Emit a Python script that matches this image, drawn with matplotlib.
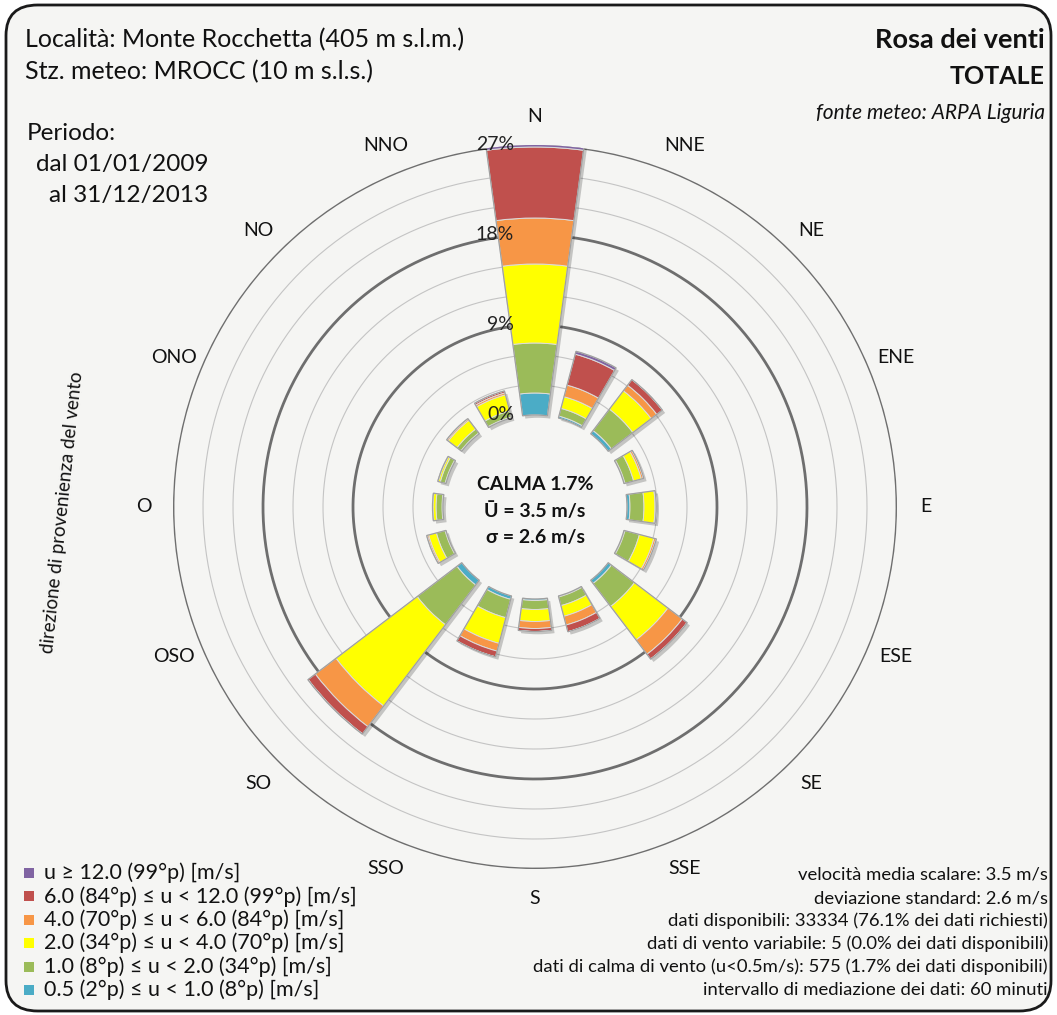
import numpy as np
import matplotlib
matplotlib.use("Agg")
import matplotlib.pyplot as plt
from matplotlib.patches import FancyBboxPatch, Rectangle
from matplotlib import patheffects as pe
from matplotlib.transforms import offset_copy

plt.rcParams['font.family'] = ['Lato', 'DejaVu Sans']

# data (percent of available data, per direction of origin)
directions = ["N", "NNE", "NE", "ENE", "E", "ESE", "SE", "SSE",
              "S", "SSO", "SO", "OSO", "O", "ONO", "NO", "NNO"]
v_05_1 = [2.2, 0.2, 0.4, 0.1, 0.3, 0.1, 0.4, 0.1, 0.15, 0.35, 0.6, 0.1, 0.1, 0.1, 0.1, 0.1]
v_1_2 = [5.0, 0.8, 2.7, 0.9, 1.4, 1.5, 2.9, 0.9, 0.9, 1.9, 5.0, 0.9, 0.6, 0.5, 0.5, 0.65]
v_2_4 = [7.9, 1.2, 2.3, 0.8, 1.1, 1.5, 4.2, 1.1, 1.2, 2.65, 10.2, 0.8, 0.3, 0.2, 1.1, 1.65]
v_4_6 = [4.6, 1.2, 0.7, 0.2, 0.1, 0.2, 1.8, 0.9, 0.7, 0.8, 2.6, 0.15, 0.05, 0.05, 0.15, 0.2]
v_6_12 = [7.1, 3.2, 0.7, 0.05, 0.02, 0.05, 0.6, 0.7, 0.3, 0.6, 0.9, 0.05, 0.0, 0.0, 0.05, 0.2]
v_12 = [0.5, 0.3, 0, 0, 0, 0, 0.02, 0, 0, 0, 0.03, 0, 0, 0, 0, 0]

classes = [v_05_1, v_1_2, v_2_4, v_4_6, v_6_12, v_12]
colors = ["#4bacc6", "#9bbb59", "#ffff00", "#f79646", "#c0504d", "#8064a2"]
legend_labels = [
    "u \u2265 12.0 (99\u00b0p) [m/s]",
    "6.0 (84\u00b0p) \u2264 u < 12.0 (99\u00b0p) [m/s]",
    "4.0 (70\u00b0p) \u2264 u < 6.0 (84\u00b0p) [m/s]",
    "2.0 (34\u00b0p) \u2264 u < 4.0 (70\u00b0p) [m/s]",
    "1.0 (8\u00b0p) \u2264 u < 2.0 (34\u00b0p) [m/s]",
    "0.5 (2\u00b0p) \u2264 u < 1.0 (8\u00b0p) [m/s]",
]
stats_lines = [
    "velocit\u00e0 media scalare: 3.5 m/s",
    "deviazione standard: 2.6 m/s",
    "dati disponibili: 33334 (76.1% dei dati richiesti)",
    "dati di vento variabile: 5 (0.0% dei dati disponibili)",
    "dati di calma di vento (u<0.5m/s): 575 (1.7% dei dati disponibili)",
    "intervallo di mediazione dei dati: 60 minuti",
]
ring_ticks = [0, 9, 18, 27]
minor_ticks = [3, 6, 12, 15, 21, 24]

HOLE = 9.2  # empty radius in the middle (in % units)
W, H = 1057, 1015


def fx(px):
    return px / W


def fy(py):
    return 1 - py / H


fig = plt.figure(figsize=(W / 100, H / 100), dpi=100)
fig.patch.set_facecolor("white")

# rounded frame
frame = FancyBboxPatch((fx(6), fy(1011)), fx(1051) - fx(6), fy(5) - fy(1011),
                       boxstyle="round,pad=0,rounding_size=0.03",
                       transform=fig.transFigure, facecolor="#f5f5f3",
                       edgecolor="#1a1a1a", linewidth=2, zorder=0)
fig.add_artist(frame)

# polar axes, centre at (535, 507) px, 27% ring at 362 px
cx, cy, rpx = 535, 507, 362
ax = fig.add_axes([fx(cx - rpx), fy(cy + rpx), 2 * rpx / W, 2 * rpx / H],
                  projection="polar")
ax.set_theta_zero_location("N")
ax.set_theta_direction(-1)
ax.set_ylim(0, HOLE + 27)
ax.axis("off")
ax.patch.set_alpha(0)

th = np.linspace(0, 2 * np.pi, 400)
for m in minor_ticks:
    ax.plot(th, np.full_like(th, HOLE + m), color="#c4c4c4", lw=0.8, zorder=1)
for m in ring_ticks[1:]:
    ax.plot(th, np.full_like(th, HOLE + m), color="#6e6e6e", lw=2.0, zorder=1)

theta = np.deg2rad(np.arange(16) * 22.5)
width = np.deg2rad(15.5)
totals = np.sum(classes, axis=0)

# soft shadow under whole bars
ax.bar(theta, totals, width=width, bottom=HOLE, color="#f0f0f0",
       edgecolor="none", zorder=2,
       path_effects=[pe.SimplePatchShadow(offset=(2, -2), shadow_rgbFace="k", alpha=0.2),
                     pe.Normal()])

bottom = np.full(16, HOLE)
for vals, col in zip(classes, colors):
    vals = np.array(vals)
    ax.bar(theta, vals, width=width, bottom=bottom, color=col,
           edgecolor="#dcdcdc", linewidth=0.7, zorder=3)
    bottom = bottom + vals

# outline of each bar
ax.bar(theta, totals, width=width, bottom=HOLE, color="none",
       edgecolor="#a0a0a0", linewidth=0.9, zorder=4)

# direction labels
for t, d in zip(theta, directions):
    ax.text(t, HOLE + 29.9, d, ha="center", va="center", fontsize=14,
            color="#111111", clip_on=False)

# ring labels, right aligned just left of the N bar
tr = offset_copy(ax.transData, fig=fig, x=-21, y=0, units="dots")
for m in ring_ticks:
    ax.text(0, HOLE + m, f"{m}%", transform=tr, ha="right", va="center",
            fontsize=14, color="#222222", zorder=5)

# centre text
for i, s in enumerate(["CALMA 1.7%", "\u016a = 3.5 m/s", "\u03c3 = 2.6 m/s"]):
    fig.text(fx(535), fy(484 + 27 * i), s, ha="center", va="center",
             fontsize=14, fontweight="bold", color="#111111")

# header texts
fig.text(fx(25), fy(40), "Localit\u00e0: Monte Rocchetta (405 m s.l.m.)",
         ha="left", va="center", fontsize=18, color="#111111")
fig.text(fx(25), fy(72), "Stz. meteo: MROCC (10 m s.l.s.)",
         ha="left", va="center", fontsize=18, color="#111111")
fig.text(fx(27), fy(133), "Periodo:", ha="left", va="center", fontsize=17.5, color="#111111")
fig.text(fx(208), fy(164), "dal 01/01/2009", ha="right", va="center", fontsize=17.5, color="#111111")
fig.text(fx(208), fy(196), "al 31/12/2013", ha="right", va="center", fontsize=17.5, color="#111111")

fig.text(fx(1045), fy(40), "Rosa dei venti", ha="right", va="center",
         fontsize=19.5, fontweight="bold", color="#111111")
fig.text(fx(1045), fy(76), "TOTALE", ha="right", va="center",
         fontsize=18, fontweight="bold", color="#111111")
fig.text(fx(1045), fy(113), "fonte meteo: ARPA Liguria", ha="right", va="center",
         fontsize=15, style="italic", color="#111111")

fig.text(fx(62), fy(512), "direzione di provenienza del vento", ha="center",
         va="center", rotation=84, fontsize=13.5, color="#111111")

# legend
for i, (lab, col) in enumerate(zip(legend_labels, colors[::-1])):
    y = 873 + 23.4 * i
    fig.add_artist(Rectangle((fx(24), fy(y + 5)), 10 / W, 10 / H,
                             transform=fig.transFigure, facecolor=col,
                             edgecolor="none"))
    fig.text(fx(44), fy(y), lab, ha="left", va="center", fontsize=15.5,
             color="#111111")

# statistics on the right
for i, s in enumerate(stats_lines):
    fig.text(fx(1048), fy(875 + 23 * i), s, ha="right", va="center",
             fontsize=13.3, color="#111111")

fig.savefig("out.png", dpi=100)
